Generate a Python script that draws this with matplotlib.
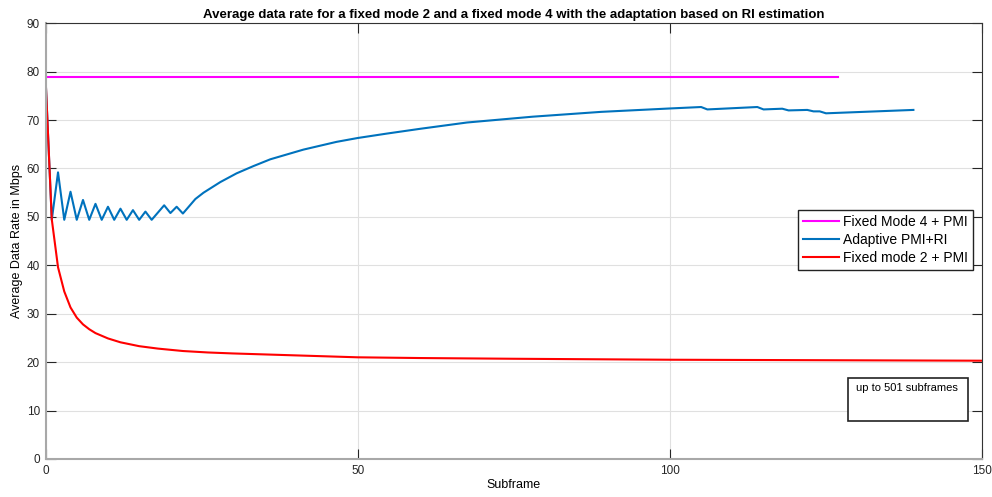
import matplotlib
matplotlib.use("Agg")
import matplotlib.pyplot as plt
from matplotlib.patches import Rectangle

plt.rcParams['font.family'] = ['Liberation Sans', 'DejaVu Sans']

# Fixed mode 4 + PMI (constant)
fixed4_x = [0, 127]
fixed4_y = [78.8, 78.8]

# Adaptive PMI+RI
adapt_x = [0, 1, 2, 3, 4, 5, 6, 7, 8, 9, 10, 11, 12, 13, 14, 15, 16, 17, 19, 20, 21, 22,
           23, 24, 25.3, 28, 30.6, 33.3, 36, 41.3, 46.6, 50, 54.6, 60, 67.5, 78, 89, 100,
           105, 106, 114, 115, 118, 119, 122, 123, 124, 125, 129, 139]
adapt_y = [78.8, 49.4, 59.2, 49.4, 55.2, 49.4, 53.5, 49.4, 52.7, 49.4, 52.1, 49.4, 51.7, 49.4,
           51.4, 49.4, 51.1, 49.4, 52.4, 50.8, 52.1, 50.7,
           52.2, 53.7, 55.0, 57.2, 59.0, 60.5, 61.9, 63.9, 65.5, 66.3, 67.2, 68.2, 69.5, 70.7,
           71.7, 72.4, 72.7, 72.2, 72.7, 72.2, 72.35, 72.0, 72.1, 71.8, 71.8, 71.4, 71.6, 72.1]

# Fixed mode 2 + PMI
fixed2_x = [0, 1, 2, 3, 4, 5, 6, 7, 8, 10, 12, 15, 18, 22, 26, 30, 40, 50, 60, 75, 100, 125, 150]
fixed2_y = [78.8, 49.5, 39.6, 34.6, 31.3, 29.2, 27.8, 26.8, 26.0, 24.9, 24.1, 23.3, 22.8,
            22.3, 22.0, 21.8, 21.4, 21.0, 20.85, 20.7, 20.5, 20.4, 20.3]

fig = plt.figure(figsize=(9.92, 4.97), dpi=100)
ax = fig.add_axes([0.0459, 0.0765, 0.9441, 0.8767])

ax.plot(fixed4_x, fixed4_y, color='#FF00FF', lw=1.5, label='Fixed Mode 4 + PMI')
ax.plot(adapt_x, adapt_y, color='#0072BD', lw=1.5, label='Adaptive PMI+RI')
ax.plot(fixed2_x, fixed2_y, color='#FF0000', lw=1.5, label='Fixed mode 2 + PMI')

ax.set_xlim(0, 150)
ax.set_ylim(0, 90)
ax.set_xticks([0, 50, 100, 150])
ax.set_yticks(range(0, 91, 10))
ax.grid(True, color='#e0e0e0', lw=0.8)
ax.set_axisbelow(True)
ax.tick_params(direction='in', top=True, right=True, length=7, width=0.8,
               labelsize=8.5, colors='#262626', pad=4)

for side in ['top', 'right']:
    ax.spines[side].set_color('#333333')
    ax.spines[side].set_linewidth(0.8)
for side in ['left', 'bottom']:
    ax.spines[side].set_color('#a8a8a8')
    ax.spines[side].set_linewidth(1.5)

ax.set_title('Average data rate for a fixed mode 2 and a fixed mode 4 with the adaptation based on RI estimation',
             fontsize=9.5, fontweight='bold', pad=4)
ax.set_xlabel('Subframe', fontsize=9, labelpad=2)
ax.set_ylabel('Average Data Rate in Mbps', fontsize=9, labelpad=3)

leg = ax.legend(loc='upper right', bbox_to_anchor=(0.9904, 0.5715), borderaxespad=0,
                fontsize=10, fancybox=False, framealpha=1, edgecolor='#222222',
                handlelength=2.6, handletextpad=0.3, labelspacing=0.3, borderpad=0.35)
leg.get_frame().set_linewidth(1.0)

# annotation text box
fig.patches.append(Rectangle((848 / 992, 1 - 421 / 497), 120 / 992, 43 / 497,
                             transform=fig.transFigure, fill=True, facecolor='white',
                             edgecolor='#222222', lw=1.2, zorder=5))
fig.text(856 / 992, 1 - 388 / 497, 'up to 501 subframes', fontsize=8, va='center',
         ha='left', zorder=6)

fig.savefig('out.png', dpi=100)
